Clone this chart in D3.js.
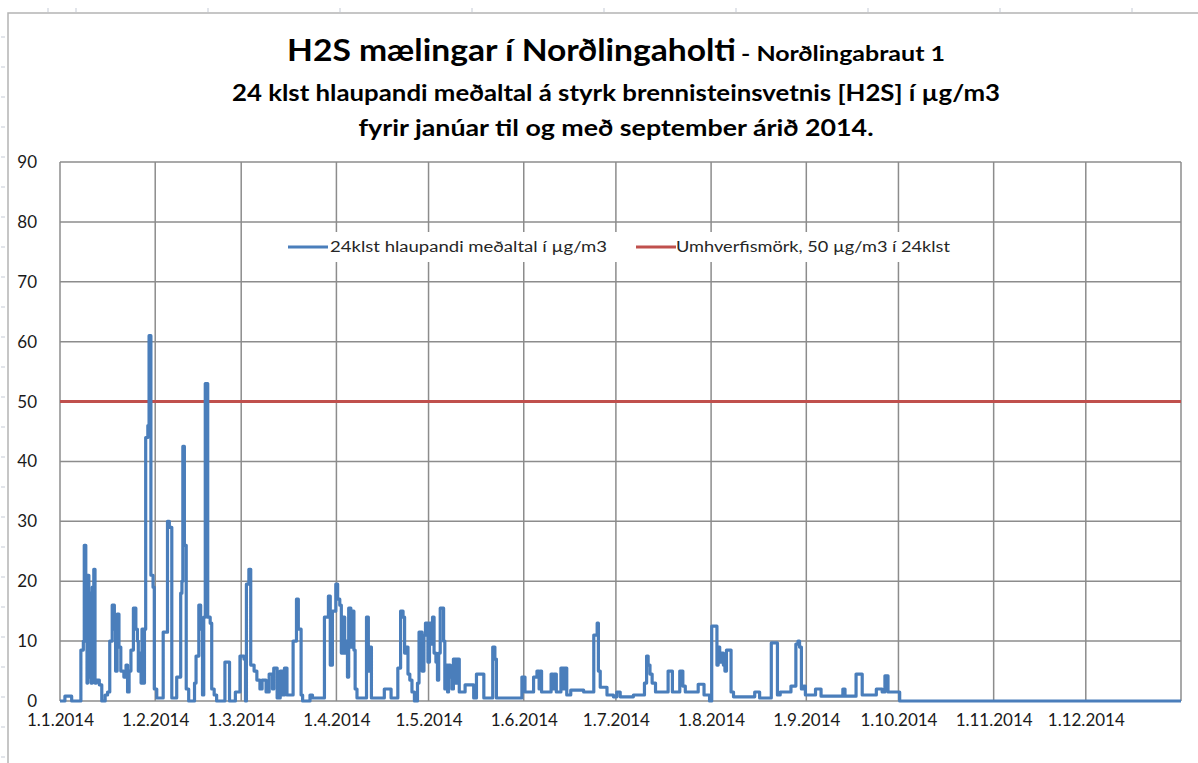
<!DOCTYPE html>
<meta charset="utf-8">
<title>H2S Norðlingaholti</title>
<style>
  body { margin: 0; background: #fff; }
  text { font-family: Lato, "Noto Sans", sans-serif; }
</style>
<body>
<script src="https://d3js.org/d3.v7.min.js"></script>
<script>

// day offset from 1.1.2014 where the running mean changes, and the value from there on (µg/m3)
const days = [
  0, 1.6, 3.8, 6.8, 7.6, 7.9, 8.4, 8.8, 9.0, 9.4, 9.7, 10.1, 10.5, 11.0, 11.4, 11.8, 12.8, 13.6, 14.7, 15.5,
  16.2, 17.0, 17.7, 18.1, 18.6, 19.2, 19.8, 20.8, 21.5, 22.0, 22.5, 23.1, 23.9, 24.7, 25.2, 25.5, 26.0, 26.4, 26.7, 27.1,
  27.5, 27.9, 28.6, 29.0, 29.6, 30.3, 30.7, 31.5,
  33.6, 35.0, 35.6, 36.4, 38.0, 39.3, 39.7, 40.0, 40.5, 41.1, 41.9, 43.8, 44.3, 45.2, 45.8, 46.4, 46.8, 47.3, 48.1, 48.9,
  49.4, 50.2, 51.0, 53.7, 55.2, 57.1, 58.6, 59.9, 60.4, 60.7, 61.5, 62.1, 63.2, 64.1, 65.1, 65.8, 67.1,
  68.1, 69.2, 69.6, 70.7, 71.7, 72.6, 73.1, 73.9, 75.9, 77.0, 77.6, 78.5, 79.0, 81.4, 82.2, 86.1, 87.4, 88.0, 88.7, 89.8,
  90.4, 91.1, 91.6, 92.2, 92.7, 93.3, 93.6, 94.0, 94.7, 95.1, 95.7, 96.1, 96.7, 99.8, 100.4, 100.9, 101.4, 105.6, 107.8,
  110.0, 110.9, 111.7, 112.2, 112.8, 113.3, 113.9, 114.6, 115.4, 116.4, 116.9, 117.9, 118.5, 119.0, 119.8, 120.3, 120.8,
  121.3, 121.8, 122.4, 122.9, 123.3, 123.8, 124.9, 125.3, 125.7, 126.2, 126.5, 127.1, 127.6, 128.1, 128.9, 129.3, 130.0,
  131.9, 134.7, 135.6, 138.0, 140.9, 141.6, 142.1,
  150.4, 151.4, 154.2, 155.3, 156.0, 156.3, 156.8, 159.9, 160.6, 160.9, 161.6, 163.1, 163.9, 164.3, 165.0, 166.3, 170.5,
  173.8, 174.9, 175.3, 175.9, 178.1, 180.2, 181.3, 182.4, 186.7, 190.3, 191.0, 191.5, 192.1, 192.8, 193.9, 198.0, 199.4,
  201.8, 202.8, 203.6, 207.8, 209.7, 211.5, 212.2, 213.9, 214.3, 214.8, 215.3, 216.0, 216.5, 217.0, 218.5, 219.3, 226.2,
  227.8, 231.6, 233.6, 234.5, 238.0, 239.6, 240.3, 240.8, 241.4, 242.1, 242.7, 246.0, 247.8, 254.9, 255.6, 259.2, 261.2,
  265.8, 267.7, 268.6, 269.6, 273.4, 365
];
const h2s = [
  0, 0.8, 0, 8.5, 10, 26, 21, 3, 21, 4, 18, 3, 19, 22, 3, 3.5, 2.7, 0, 1, 1.5,
  10, 16, 12, 5, 14.5, 9, 5, 4, 6, 1.5, 5, 8.5, 15.5, 12, 10, 5, 8, 3, 12, 3,
  12, 44, 46, 61, 21, 19, 2, 0.5,
  11.5, 30, 29, 0.5, 4, 18, 20, 42.5, 26, 2, 0, 3, 7.5, 16, 12, 1, 14, 53, 14, 13,
  2, 1, 0, 6.5, 0, 1.5, 7.5, 7, 0, 19.5, 22, 6, 5, 3.5, 2, 3.5, 1.5,
  4.5, 2, 5.5, 0.5, 5, 1, 5.5, 1, 10, 17, 12, 1, 0, 1, 0.5, 14, 17.5, 6, 15, 19.5,
  17, 16, 8, 14, 8, 10, 4, 15.5, 9, 15, 8.5, 2, 0.5, 14, 5, 9, 0.5, 2, 0.5,
  5.5, 15, 14, 8, 9, 4.5, 3.5, 1.5, 0, 3, 11.5, 5, 11, 13, 6.5, 13, 9.5,
  14, 8, 6.5, 3.5, 8, 15.5, 10, 2, 6, 1.5, 6, 4, 2, 7, 3, 7, 1.5,
  2.7, 0.5, 4.5, 0.5, 9, 7, 0.5,
  4, 1.5, 4, 5, 2, 5, 1.5, 4.5, 2, 4.5, 1.5, 5.5, 2, 5.5, 1, 1.8, 1.5,
  11, 13, 5, 2.3, 1, 0.7, 1.5, 0.7, 1, 3, 7.5, 6, 4.5, 3, 1.5, 5, 1.5,
  5, 2.5, 1.5, 2.8, 1, 0, 12.5, 6, 9, 6.5, 8, 6, 5, 8.5, 1.5, 0.7, 1.5,
  0.5, 9.7, 1, 1.5, 2.5, 9.5, 10, 9, 2, 2.5, 1, 2, 0.8, 2, 0.8, 4.5, 1,
  2, 1.5, 4.2, 1.5, 0, 0
];
const limit = 50;
const yTicks = [0, 10, 20, 30, 40, 50, 60, 70, 80, 90];
const monthTicks = [0, 1, 2, 3, 4, 5, 6, 7, 8, 9, 10, 11];

const seriesName = "24klst hlaupandi meðaltal í µg/m3";
const limitName = "Umhverfismörk, 50 µg/m3 í 24klst";

const width = 1198, height = 763;
const plotLeft = 60, plotRight = 1181, plotTop = 162, plotBottom = 701;
const blue = "#4a7ebb", red = "#c0504d", grid = "#8c8c8c";

const start = new Date(2014, 0, 1);
const dayMs = 86400000;

const x = d3.scaleTime().domain([start, new Date(2015, 0, 1)]).range([plotLeft, plotRight]);
const y = d3.scaleLinear().domain([0, 90]).range([plotBottom, plotTop]);

const svg = d3.select("body").append("svg")
    .attr("width", width)
    .attr("height", height);

// spreadsheet frame behind the chart
svg.append("path")
    .attr("d", `M8,${height}V13H${width}`)
    .attr("fill", "none")
    .attr("stroke", "#b4b4b4")
    .attr("stroke-width", 1.5);
svg.append("g").selectAll("line")
    .data(d3.range(37, height, 30))
  .enter().append("line")
    .attr("x1", 1).attr("x2", 5)
    .attr("y1", d => d).attr("y2", d => d)
    .attr("stroke", "#c5cbd6");
svg.append("g").selectAll("line")
    .data([48, 76, 208, 340, 472, 604, 736, 868, 1000, 1132])
  .enter().append("line")
    .attr("x1", d => d).attr("x2", d => d)
    .attr("y1", 8).attr("y2", 12)
    .attr("stroke", "#c5cbd6");

// titles
svg.append("text")
    .attr("x", 287).attr("y", 61)
    .attr("font-weight", "bold")
    .attr("font-size", 31)
    .attr("textLength", 449)
    .attr("lengthAdjust", "spacingAndGlyphs")
    .text("H2S mælingar í Norðlingaholti");
svg.append("text")
    .attr("x", 741).attr("y", 61)
    .attr("font-weight", "bold")
    .attr("font-size", 21)
    .attr("textLength", 204)
    .attr("lengthAdjust", "spacingAndGlyphs")
    .text("- Norðlingabraut 1");

svg.append("text")
    .attr("x", 616).attr("y", 101)
    .attr("text-anchor", "middle")
    .attr("font-weight", "bold")
    .attr("font-size", 23)
    .attr("textLength", 768)
    .attr("lengthAdjust", "spacingAndGlyphs")
    .text("24 klst hlaupandi meðaltal á styrk brennisteinsvetnis [H2S] í µg/m3");

svg.append("text")
    .attr("x", 616).attr("y", 136)
    .attr("text-anchor", "middle")
    .attr("font-weight", "bold")
    .attr("font-size", 23)
    .attr("textLength", 515)
    .attr("lengthAdjust", "spacingAndGlyphs")
    .text("fyrir janúar til og með september árið 2014.");

// gridlines
const monthDates = monthTicks.map(m => new Date(2014, m, 1));

svg.append("g").selectAll("line")
    .data(yTicks)
  .enter().append("line")
    .attr("x1", plotLeft).attr("x2", plotRight)
    .attr("y1", d => y(d)).attr("y2", d => y(d))
    .attr("stroke", grid).attr("stroke-width", 1.5);

svg.append("g").selectAll("line")
    .data(monthDates.concat([new Date(2015, 0, 1)]))
  .enter().append("line")
    .attr("x1", d => x(d)).attr("x2", d => x(d))
    .attr("y1", plotTop).attr("y2", plotBottom)
    .attr("stroke", grid).attr("stroke-width", 1.5);

// axes labels
const yAxis = svg.append("g")
    .attr("transform", `translate(${plotLeft},0)`)
    .call(d3.axisLeft(y).tickValues(yTicks).tickSize(0).tickPadding(23));
yAxis.select(".domain").remove();
yAxis.selectAll("text")
    .attr("font-size", 17)
    .attr("fill", "#1a1a1a")
    .style("font-family", "Lato, 'Noto Sans', sans-serif");

const xAxis = svg.append("g")
    .attr("transform", `translate(0,${plotBottom})`)
    .call(d3.axisBottom(x).tickValues(monthDates).tickFormat(d3.timeFormat("%-d.%-m.%Y")).tickSize(0).tickPadding(13));
xAxis.select(".domain").remove();
xAxis.selectAll("text")
    .attr("font-size", 17)
    .attr("fill", "#1a1a1a")
    .style("font-family", "Lato, 'Noto Sans', sans-serif");

// legend
svg.append("rect")
    .attr("x", 281).attr("y", 232)
    .attr("width", 678).attr("height", 30)
    .attr("fill", "#fff");

const legend = [
  { name: seriesName, color: blue, x0: 288, tx: 330, len: 277 },
  { name: limitName, color: red, x0: 636, tx: 676, len: 274 }
];
const lg = svg.append("g").selectAll("g")
    .data(legend)
  .enter().append("g");
lg.append("line")
    .attr("x1", d => d.x0).attr("x2", d => d.x0 + 40)
    .attr("y1", 247).attr("y2", 247)
    .attr("stroke", d => d.color).attr("stroke-width", 3);
lg.append("text")
    .attr("x", d => d.tx).attr("y", 252)
    .attr("font-size", 15.5)
    .attr("fill", "#262626")
    .attr("textLength", d => d.len)
    .attr("lengthAdjust", "spacingAndGlyphs")
    .text(d => d.name);

// limit line
svg.append("line")
    .attr("x1", plotLeft).attr("x2", plotRight)
    .attr("y1", y(limit)).attr("y2", y(limit))
    .attr("stroke", red).attr("stroke-width", 3);

// running mean series
const data = days.map((d, i) => ({ date: new Date(start.getTime() + d * dayMs), value: h2s[i] }));

const line = d3.line()
    .curve(d3.curveStepAfter)
    .x(d => x(d.date))
    .y(d => y(d.value));

svg.append("path")
    .datum(data)
    .attr("d", line)
    .attr("fill", "none")
    .attr("stroke", blue)
    .attr("stroke-width", 3.2)
    .attr("stroke-linejoin", "round");

</script>
</body>
